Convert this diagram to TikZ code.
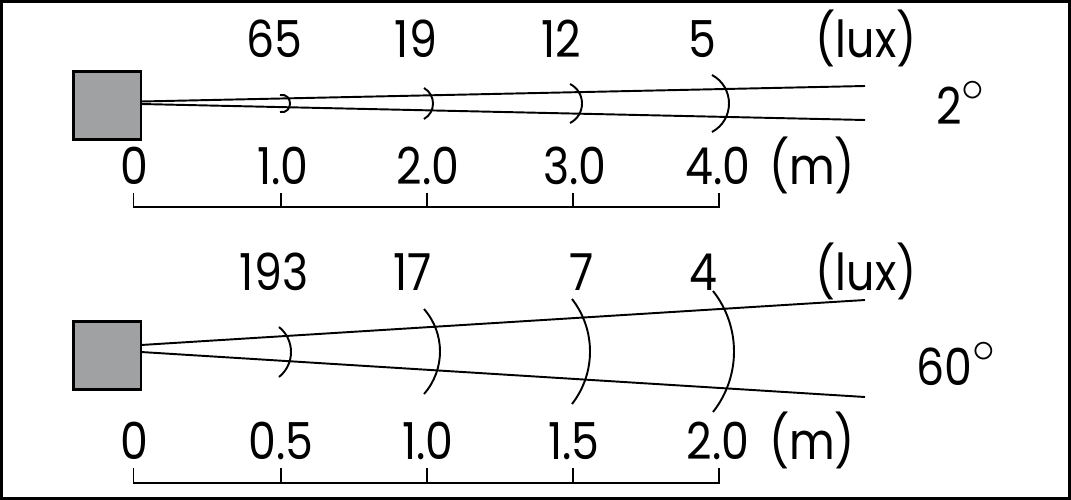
\documentclass[tikz,border=0pt]{standalone}
\usepackage{fontspec}
\setmainfont{Poppins}[FakeStretch=0.87]
\usepackage{tikz}
\usetikzlibrary{positioning}
\definecolor{lampgray}{RGB}{160, 161, 163}
\newcommand{\degsign}{\raisebox{0.05cm}{\scalebox{1.25}{$^{\circ}$}}}
\tikzstyle{lamp} = [rectangle, draw=black, line width=1.7pt, fill=lampgray, minimum width=1.36cm, minimum height=1.36cm, inner sep=0pt]
\tikzstyle{lbl}  = [inner sep=0pt, anchor=base, font=\fontsize{29}{32}\selectfont]
\tikzstyle{beam} = [draw, line width=1.1pt]
\tikzstyle{ring} = [draw, line width=1.1pt]
\tikzstyle{ruler} = [draw, line width=1.1pt]

\begin{document}
\begin{tikzpicture}[x=0.02cm, y=-0.02cm]
\useasboundingbox (0,0) rectangle (1071,500);
\draw[line width=1.7pt] (1.5,1.5) rectangle (1069.5,498.5);

% narrow beam, 2 degrees =============================
\node[lamp] (lampA) at (107,105.5) {};
\coordinate (srcA) at (141,101.5);
\coordinate (srcB) at (141,104);
\coordinate (endA) at (865,86);
\coordinate (endB) at (865,120);
\path[beam] (srcA) -- (endA);
\path[beam] (srcB) -- (endB);

% x, top, bottom, bulge
\foreach \x/\t/\u/\b in {280/95/112/10, 424/88/119/9, 570/84/123/12, 712/75/132/17}{
  \pgfmathsetmacro{\h}{(\u-\t)/2}
  \pgfmathsetmacro{\d}{2/3*(\h-\b*\b/\h)}
  \path[ring] (\x,\t) .. controls ({\x+4/3*\b},{\t+\d}) and ({\x+4/3*\b},{\u-\d}) .. (\x,\u);
}

\foreach \x/\v in {274/65, 416/19, 561/12, 702/5, 866/(lux)}
  \node[lbl] at (\x,58) {\v};
\node[lbl] (angA) at (961,124) {2\degsign};

\foreach \x/\v in {134/0, 283/1.0, 428/2.0, 575/3.0, 718/4.0, 812/(m)}
  \node[lbl] at (\x,184) {\v};
\path[ruler] (133.5,193) -- (133.5,207) -- (719,207) -- (719,193);
\foreach \x in {281, 427, 573}
  \path[ruler] (\x,193) -- (\x,207);

% wide beam, 60 degrees =============================
\node[lamp] (lampB) at (107,355.5) {};
\coordinate (srcC) at (141,345);
\coordinate (srcD) at (141,352);
\coordinate (endC) at (865,300);
\coordinate (endD) at (865,397);
\path[beam] (srcC) -- (endC);
\path[beam] (srcD) -- (endD);

\foreach \x/\t/\u/\b in {279/327/377/12, 424/309/394/16, 572/299/404/18, 713/291/412/21}{
  \pgfmathsetmacro{\h}{(\u-\t)/2}
  \pgfmathsetmacro{\d}{2/3*(\h-\b*\b/\h)}
  \path[ring] (\x,\t) .. controls ({\x+4/3*\b},{\t+\d}) and ({\x+4/3*\b},{\u-\d}) .. (\x,\u);
}

\foreach \x/\v in {274/193, 413/17, 582/7, 703/4, 866/(lux)}
  \node[lbl] at (\x,290) {\v};
\node[lbl] (angB) at (956,385) {60\degsign};

\foreach \x/\v in {134/0, 281/0.5, 428/1.0, 574/1.5, 718/2.0, 812/(m)}
  \node[lbl] at (\x,459) {\v};
\path[ruler] (133.5,468) -- (133.5,483) -- (719,483) -- (719,468);
\foreach \x in {281, 427, 573}
  \path[ruler] (\x,468) -- (\x,483);

\end{tikzpicture}
\end{document}
